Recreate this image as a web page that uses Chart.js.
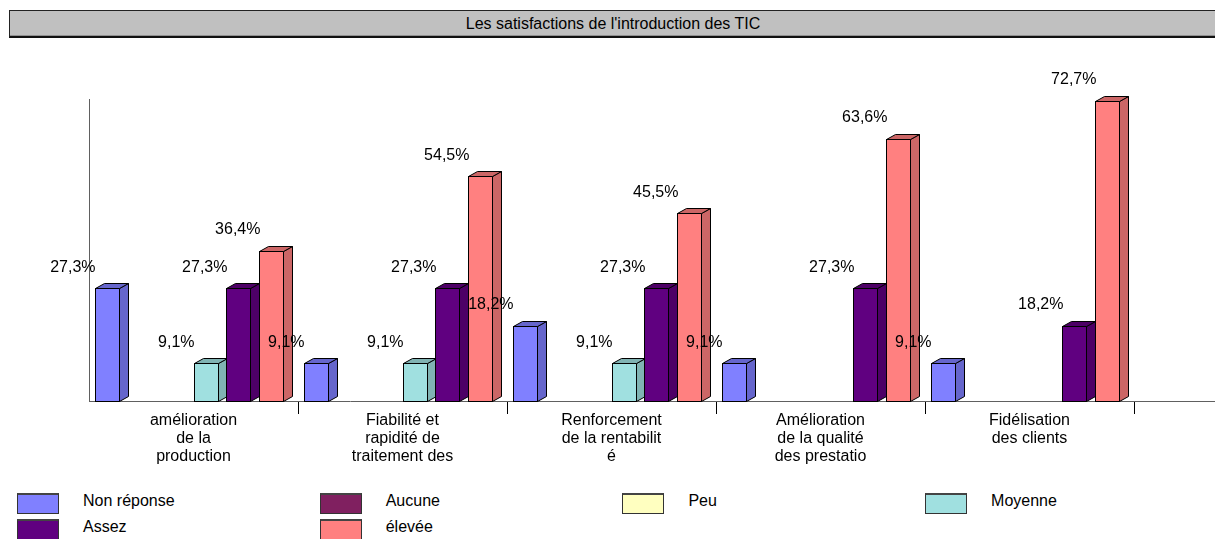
<!DOCTYPE html>
<html lang="fr">
<head>
    <meta charset="UTF-8">
    <title>Les satisfactions de l'introduction des TIC</title>
    <script src="https://cdn.jsdelivr.net/npm/chart.js"></script>
    <style>
        body {
            margin: 0;
            background: #fff;
            font-family: "Liberation Sans", Arial, sans-serif;
            width: 1215px;
            height: 539px;
            position: relative;
            overflow: hidden;
        }
        #titre {
            position: absolute;
            left: 9px;
            top: 10px;
            width: 1206px;
            height: 25px;
            background: #c0c0c0;
            border-top: 1px solid #222;
            border-left: 1px solid #222;
            border-bottom: 2px solid #111;
            box-shadow: inset 0 -1px 0 #909090;
            font-size: 16px;
            line-height: 25px;
            text-align: center;
            color: #000;
            box-sizing: content-box;
        }
        #graph {
            position: absolute;
            left: 0;
            top: 0;
        }
        #legende {
            position: absolute;
            left: 17px;
            top: 493px;
            width: 1200px;
        }
        .item {
            position: absolute;
            height: 21px;
            font-size: 16px;
            color: #000;
        }
        .item span.boite {
            position: absolute;
            left: 0;
            top: 0;
            width: 40px;
            height: 18px;
            border: 1px solid #333;
            border-top: 2px solid #444;
        }
        .item span.nom {
            position: absolute;
            left: 66px;
            top: -1px;
            white-space: nowrap;
            line-height: 18px;
        }
    </style>
</head>
<body>
    <div id="titre">Les satisfactions de l'introduction des TIC</div>
    <canvas id="graph" width="1215" height="485"></canvas>
    <div id="legende"></div>

    <script>
        // données (%)
        const categories = [
            ['amélioration', 'de la', 'production'],
            ['Fiabilité et', 'rapidité de', 'traitement des'],
            ['Renforcement', 'de la rentabilit', 'é'],
            ['Amélioration', 'de la qualité', 'des prestatio'],
            ['Fidélisation', 'des clients']
        ];
        const series = ['Non réponse', 'Aucune', 'Peu', 'Moyenne', 'Assez', 'élevée'];
        const nonReponse = [27.3, 9.1, 18.2, 9.1, 9.1];
        const aucune     = [0, 0, 0, 0, 0];
        const peu        = [0, 0, 0, 0, 0];
        const moyenne    = [9.1, 9.1, 9.1, 0, 0];
        const assez      = [27.3, 27.3, 27.3, 27.3, 18.2];
        const elevee     = [36.4, 54.5, 45.5, 63.6, 72.7];
        const valeurs = [nonReponse, aucune, peu, moyenne, assez, elevee];

        const couleurs = ['#8080ff', '#802060', '#ffffc0', '#a0e0e0', '#600080', '#ff8080'];
        const cotes    = ['#6666cc', '#661a4d', '#cccc9a', '#80b3b3', '#4d0066', '#cc6666'];
        const yMax = 73.2;

        // légende en html, 4 colonnes
        const leg = document.getElementById('legende');
        series.forEach(function (nom, i) {
            const d = document.createElement('div');
            d.className = 'item';
            d.style.left = ((i % 4) * 302.7) + 'px';
            d.style.top = (Math.floor(i / 4) * 26) + 'px';
            d.innerHTML = '<span class="boite" style="background:' + couleurs[i] + '"></span><span class="nom">' + nom + '</span>';
            leg.appendChild(d);
        });

        function pourcent(v) {
            return v.toFixed(1).replace('.', ',') + '%';
        }

        // barres en 3D dessinées à partir des éléments du graphique
        const barres3d = {
            id: 'barres3d',
            beforeDatasetsDraw: function (chart) {
                const ctx = chart.ctx;
                ctx.save();
                ctx.lineWidth = 1;
                ctx.strokeStyle = '#000';
                chart.data.datasets.forEach(function (ds, di) {
                    const meta = chart.getDatasetMeta(di);
                    meta.data.forEach(function (bar, i) {
                        if (!ds.data[i]) return;
                        const p = bar.getProps(['x', 'y', 'base', 'width'], true);
                        const w = p.width;
                        const fw = Math.round(w * 0.73);
                        const dx = Math.round(w * 0.27);
                        const dy = Math.round(dx / 2);
                        const l = Math.round(p.x - w / 2) + 0.5;
                        const t = Math.round(p.y) + 0.5;
                        const b = Math.round(p.base) + 0.5;
                        // face avant
                        ctx.fillStyle = couleurs[di];
                        ctx.fillRect(l, t, fw, b - t);
                        ctx.strokeRect(l, t, fw, b - t);
                        // côté
                        ctx.fillStyle = cotes[di];
                        ctx.beginPath();
                        ctx.moveTo(l + fw, t);
                        ctx.lineTo(l + fw + dx, t - dy);
                        ctx.lineTo(l + fw + dx, b - dy);
                        ctx.lineTo(l + fw, b);
                        ctx.closePath();
                        ctx.fill();
                        ctx.stroke();
                        // dessus
                        ctx.beginPath();
                        ctx.moveTo(l, t);
                        ctx.lineTo(l + dx, t - dy);
                        ctx.lineTo(l + fw + dx, t - dy);
                        ctx.lineTo(l + fw, t);
                        ctx.closePath();
                        ctx.fill();
                        ctx.stroke();
                    });
                });
                ctx.restore();
                return false;
            },
            afterDraw: function (chart) {
                const ctx = chart.ctx;
                const area = chart.chartArea;
                ctx.save();
                // l'axe horizontal continue jusqu'au bord droit
                ctx.strokeStyle = '#606060';
                ctx.lineWidth = 1;
                ctx.beginPath();
                ctx.moveTo(area.right, Math.round(area.bottom) + 0.5);
                ctx.lineTo(chart.width, Math.round(area.bottom) + 0.5);
                ctx.stroke();
                // étiquettes des valeurs
                ctx.font = '16px "Liberation Sans", Arial, sans-serif';
                ctx.fillStyle = '#000';
                ctx.textAlign = 'right';
                ctx.textBaseline = 'middle';
                chart.data.datasets.forEach(function (ds, di) {
                    const meta = chart.getDatasetMeta(di);
                    meta.data.forEach(function (bar, i) {
                        if (!ds.data[i]) return;
                        const p = bar.getProps(['x', 'y', 'width'], true);
                        ctx.fillText(pourcent(ds.data[i]), p.x - p.width / 2 + 1, p.y - 21);
                    });
                });
                ctx.restore();
            }
        };

        const ctx = document.getElementById('graph').getContext('2d');
        const graphique = new Chart(ctx, {
            type: 'bar',
            data: {
                labels: categories,
                datasets: series.map(function (nom, i) {
                    return {
                        label: nom,
                        data: valeurs[i],
                        backgroundColor: couleurs[i],
                        barPercentage: 1,
                        categoryPercentage: 0.947
                    };
                })
            },
            options: {
                responsive: false,
                animation: false,
                devicePixelRatio: 1,
                layout: {
                    padding: { left: 89, right: 81, top: 99, bottom: 21 }
                },
                plugins: {
                    legend: { display: false },
                    tooltip: { enabled: false }
                },
                scales: {
                    x: {
                        grid: {
                            display: true,
                            drawOnChartArea: false,
                            drawTicks: true,
                            tickLength: 13,
                            tickColor: function (c) { return c.index === 0 ? 'rgba(0,0,0,0)' : '#000'; }
                        },
                        border: { display: true, color: '#606060', width: 1 },
                        ticks: {
                            color: '#000',
                            padding: -2,
                            maxRotation: 0,
                            autoSkip: false,
                            font: { family: '"Liberation Sans", Arial, sans-serif', size: 16, lineHeight: 1.125 }
                        }
                    },
                    y: {
                        min: 0,
                        max: yMax,
                        grid: { display: false, drawTicks: false },
                        border: { display: true, color: '#606060', width: 1 },
                        ticks: { display: false }
                    }
                }
            },
            plugins: [barres3d]
        });
    </script>
</body>
</html>
